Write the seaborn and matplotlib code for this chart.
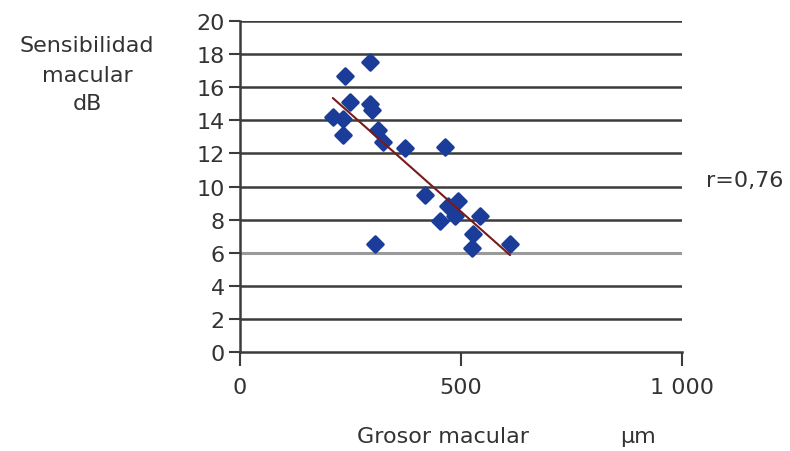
import matplotlib
matplotlib.use("Agg")
import matplotlib.pyplot as plt
import seaborn as sns
import numpy as np
import pandas as pd

# Data
grosor = [294, 238, 249, 294, 299, 210, 233, 233, 312, 324, 373, 464,
          419, 493, 471, 486, 452, 543, 527, 525, 611, 305]
sensibilidad = [17.5, 16.7, 15.1, 15.0, 14.6, 14.2, 14.1, 13.1, 13.4, 12.7, 12.3, 12.4,
                9.5, 9.1, 8.8, 8.2, 7.9, 8.2, 7.1, 6.3, 6.5, 6.5]
y_ticks = list(range(0, 21, 2))
x_ticks = [0, 500, 1000]
x_tick_labels = ["0", "500", "1 000"]

df = pd.DataFrame({"grosor": grosor, "sens": sensibilidad})

sns.set_style("white")
plt.rcParams['font.family'] = ['DejaVu Sans']

fig = plt.figure(figsize=(7.9, 4.52), dpi=100)
ax = fig.add_axes([240/790, 1-353/452, (682-240)/790, (353-22)/452])

for yv in y_ticks[1:]:
    if yv == 6:
        ax.axhline(yv, color="#9a9a9a", lw=2.2, zorder=1)
    else:
        ax.axhline(yv, color="#3c3c3c", lw=1.8, zorder=1)

sns.regplot(data=df, x="grosor", y="sens", ax=ax, ci=None, truncate=True,
            marker="D", color="#1c3c9a",
            scatter_kws=dict(s=62, alpha=1, edgecolor="#1c3c9a",
                             linewidths=2.2, zorder=3),
            line_kws=dict(color="#7a1a1a", lw=1.5, zorder=4))

ax.set_xlim(0, 1000)
ax.set_ylim(0, 20)
ax.set_xticks(x_ticks)
ax.set_xticklabels(x_tick_labels)
ax.set_yticks(y_ticks)
ax.set_xlabel("")
ax.set_ylabel("")

for s in ["top", "right"]:
    ax.spines[s].set_visible(False)
for s in ["left", "bottom"]:
    ax.spines[s].set_color("#3c3c3c")
    ax.spines[s].set_linewidth(1.8)

ax.tick_params(axis="y", direction="out", length=8, width=1.5, color="#3c3c3c",
               labelsize=16, labelcolor="#333333", pad=3, left=True)
ax.tick_params(axis="x", direction="out", length=10, width=1.5, color="#3c3c3c",
               labelsize=16, labelcolor="#333333", pad=8, bottom=True)

fs = 16
fig.text(87/790, 1-46/452, "Sensibilidad", ha="center", va="center", fontsize=fs, color="#333333")
fig.text(87/790, 1-76/452, "macular", ha="center", va="center", fontsize=fs, color="#333333")
fig.text(87/790, 1-104/452, "dB", ha="center", va="center", fontsize=fs, color="#333333")
fig.text(745/790, 1-181/452, "r=0,76", ha="center", va="center", fontsize=fs, color="#333333")
fig.text(443/790, 1-437/452, "Grosor macular", ha="center", va="center", fontsize=fs, color="#333333")
fig.text(638/790, 1-437/452, "µm", ha="center", va="center", fontsize=fs, color="#333333")

fig.savefig("out.png", dpi=100)
